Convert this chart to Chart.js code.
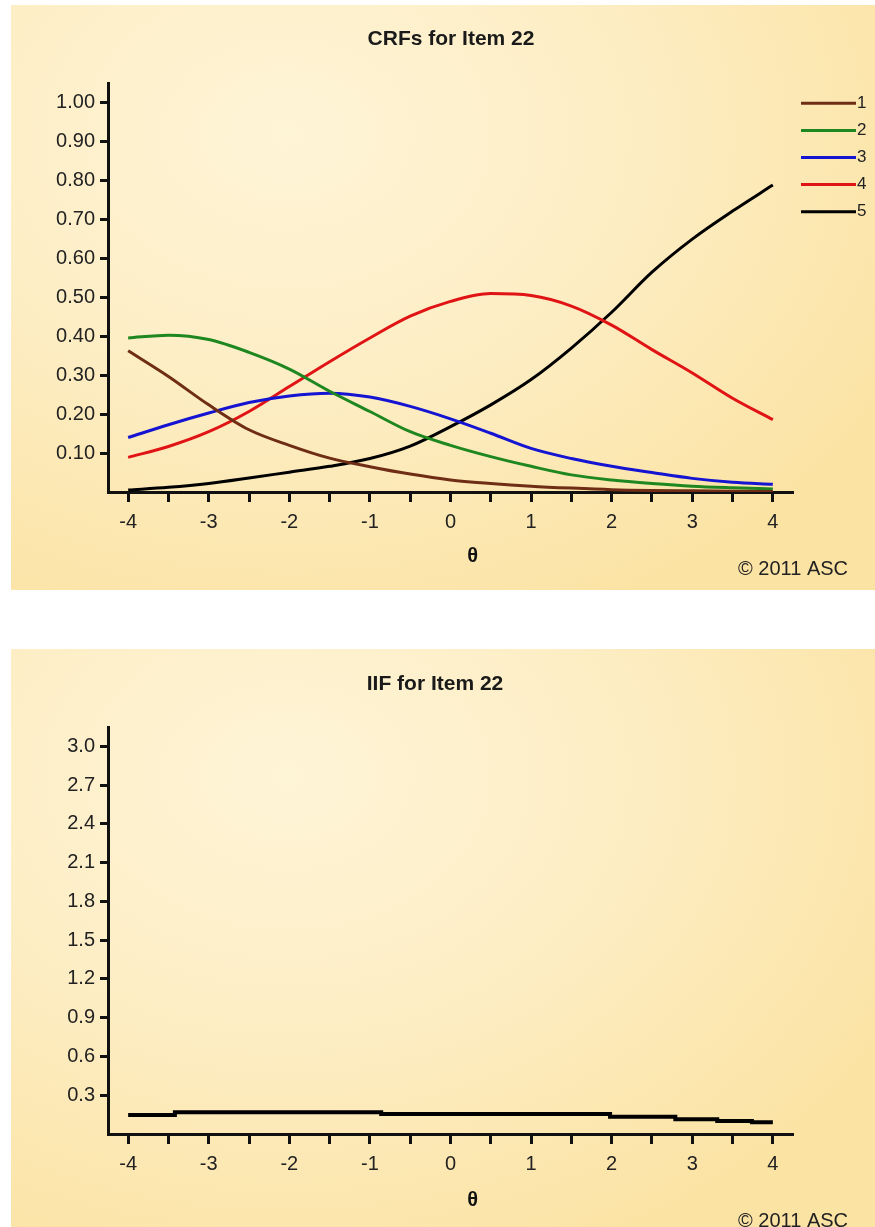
<!DOCTYPE html>
<html>
<head>
<meta charset="utf-8">
<script src="https://cdn.jsdelivr.net/npm/chart.js@4"></script>
<style>
  body { margin: 0; background: #fff; width: 875px; height: 1227px; position: relative; overflow: hidden; }
  .panel {
    position: absolute; left: 11px; width: 864px;
    background: radial-gradient(ellipse 80% 90% at 32% 22%, #fef4d6 0%, #fdeec6 45%, #fbe3a4 100%);
  }
  #panel-crf { top: 5px; height: 585px; }
  #panel-iif { top: 649px; height: 578px; }
  canvas { display: block; }
</style>
</head>
<body>
<div class="panel" id="panel-crf"><canvas id="grafico-crf" width="864" height="585"></canvas></div>
<div class="panel" id="panel-iif"><canvas id="grafico-iif" width="864" height="578"></canvas></div>
<script>
// Datos
const theta = [-4, -3.5, -3, -2.5, -2, -1.5, -1, -0.5, 0, 0.5, 1, 1.5, 2, 2.5, 3, 3.5, 4];
const cat1 = [0.363, 0.297, 0.224, 0.160, 0.120, 0.087, 0.065, 0.046, 0.031, 0.022, 0.015, 0.010, 0.006, 0.004, 0.003, 0.002, 0.001];
const cat2 = [0.396, 0.403, 0.392, 0.359, 0.316, 0.259, 0.207, 0.155, 0.120, 0.091, 0.066, 0.044, 0.031, 0.022, 0.015, 0.011, 0.008];
const cat3 = [0.140, 0.173, 0.203, 0.230, 0.247, 0.254, 0.244, 0.220, 0.188, 0.151, 0.112, 0.086, 0.066, 0.050, 0.035, 0.025, 0.020];
const cat4 = [0.089, 0.117, 0.155, 0.207, 0.271, 0.335, 0.396, 0.452, 0.490, 0.510, 0.505, 0.478, 0.429, 0.366, 0.306, 0.241, 0.186];
const cat5 = [0.005, 0.012, 0.022, 0.036, 0.051, 0.066, 0.086, 0.118, 0.168, 0.224, 0.289, 0.370, 0.462, 0.565, 0.650, 0.722, 0.789];
const categorias = ['1', '2', '3', '4', '5'];

// IIF (la curva aparece escalonada en la imagen)
const thetaIIF = [-4, -3.42, -0.86, 1.98, 2.79, 3.31, 3.74, 4];
const infoIIF = [0.148, 0.169, 0.154, 0.133, 0.115, 0.100, 0.090, 0.090];

// Etiquetas de los ejes
const ticksTheta = [-4, -3.5, -3, -2.5, -2, -1.5, -1, -0.5, 0, 0.5, 1, 1.5, 2, 2.5, 3, 3.5, 4];
const ticksCRF = [0.1, 0.2, 0.3, 0.4, 0.5, 0.6, 0.7, 0.8, 0.9, 1.0];
const ticksIIF = [0.3, 0.6, 0.9, 1.2, 1.5, 1.8, 2.1, 2.4, 2.7, 3.0];

const colores = ['#6e2d14', '#1f871f', '#1414d2', '#e01414', '#000000'];
const FUENTE = '"Liberation Sans", Arial, sans-serif';
Chart.defaults.font.family = FUENTE;
Chart.defaults.color = '#222';

function puntos(xs, ys) {
    return xs.map((x, i) => ({ x: x, y: ys[i] }));
}

// Leyenda de lineas a la derecha (como en el original)
const leyendaLineas = {
    id: 'leyendaLineas',
    afterDraw(chart, args, opts) {
        if (!opts.display) return;
        const ctx = chart.ctx;
        chart.data.datasets.forEach((ds, i) => {
            const y = opts.top + i * opts.step;
            ctx.save();
            ctx.strokeStyle = ds.borderColor;
            ctx.lineWidth = 3;
            ctx.beginPath();
            ctx.moveTo(opts.x, y);
            ctx.lineTo(opts.x + opts.width, y);
            ctx.stroke();
            ctx.fillStyle = '#222';
            ctx.font = '17px ' + FUENTE;
            ctx.textBaseline = 'middle';
            ctx.fillText(ds.label, opts.x + opts.width + 1, y);
            ctx.restore();
        });
    }
};

// Texto de copyright abajo a la derecha
const copyright = {
    id: 'copyright',
    afterDraw(chart, args, opts) {
        const ctx = chart.ctx;
        ctx.save();
        ctx.fillStyle = '#222';
        ctx.font = '20px ' + FUENTE;
        ctx.textAlign = 'right';
        ctx.textBaseline = 'middle';
        ctx.fillText(opts.text, opts.x, opts.y);
        ctx.restore();
    }
};

function ejeX(padTitulo) {
    return {
        type: 'linear',
        min: -4.25,
        max: 4.25,
        afterBuildTicks: s => { s.ticks = ticksTheta.map(v => ({ value: v })); },
        ticks: {
            callback: v => Number.isInteger(v) ? String(v) : '',
            font: { size: 20 },
            color: '#222',
            padding: 8,
            maxRotation: 0,
            autoSkip: false
        },
        grid: { drawOnChartArea: false, drawTicks: true, tickLength: 10, tickWidth: 3, tickColor: '#111' },
        border: { display: true, width: 3, color: '#111' },
        // el simbolo esta algo a la derecha del centro en el original
        title: { display: true, text: '        θ', font: { size: 20, weight: 'bold' }, color: '#111', padding: { top: padTitulo, bottom: 0 } }
    };
}

function ejeY(max, ticksY, decimales, ancho) {
    return {
        min: 0,
        max: max,
        afterBuildTicks: s => { s.ticks = ticksY.map(v => ({ value: v })); },
        afterFit: s => { s.width = ancho; },
        ticks: {
            callback: v => v.toFixed(decimales),
            font: { size: 20 },
            color: '#222',
            padding: 5,
            autoSkip: false
        },
        grid: { drawOnChartArea: false, drawTicks: true, tickLength: 8, tickWidth: 3, tickColor: '#111' },
        border: { display: true, width: 3, color: '#111' }
    };
}

// eje vacio a la derecha, solo reserva el espacio de la leyenda
function ejeDerecho(ancho) {
    return {
        position: 'right',
        display: true,
        afterFit: s => { s.width = ancho; },
        ticks: { display: false },
        grid: { display: false },
        border: { display: false }
    };
}

function tituloGrafico(texto, padTop, padBottom) {
    return {
        display: true,
        text: texto,
        font: { size: 21, weight: 'bold' },
        color: '#1a1a1a',
        padding: { top: padTop, bottom: padBottom }
    };
}

// Grafico CRF
const seriesCRF = [cat1, cat2, cat3, cat4, cat5];
new Chart(document.getElementById('grafico-crf'), {
    type: 'line',
    data: {
        datasets: seriesCRF.map((serie, i) => ({
            label: categorias[i],
            data: puntos(theta, serie),
            borderColor: colores[i],
            borderWidth: 3,
            pointRadius: 0,
            fill: false,
            cubicInterpolationMode: 'monotone'
        }))
    },
    options: {
        responsive: false,
        animation: false,
        layout: { padding: { left: 16, right: 0, top: 0, bottom: 22 } },
        plugins: {
            title: tituloGrafico('CRFs for Item 22', 22, 31.3),
            legend: { display: false },
            tooltip: { enabled: false },
            leyendaLineas: { display: true, x: 790, width: 55, top: 98.3, step: 27.1 },
            copyright: { text: '© 2011 ASC', x: 837, y: 564 }
        },
        scales: {
            x: ejeX(2),
            y: ejeY(1.05, ticksCRF, 2, 81),
            y2: ejeDerecho(82)
        }
    },
    plugins: [leyendaLineas, copyright]
});

// Grafico IIF
new Chart(document.getElementById('grafico-iif'), {
    type: 'line',
    data: {
        datasets: [{
            label: 'IIF',
            data: puntos(thetaIIF, infoIIF),
            borderColor: '#000',
            borderWidth: 4,
            pointRadius: 0,
            fill: false,
            stepped: 'before'
        }]
    },
    options: {
        responsive: false,
        animation: false,
        layout: { padding: { left: 0, right: 16, top: 0, bottom: 15 } },
        plugins: {
            title: tituloGrafico('IIF for Item 22', 23, 29.8),
            legend: { display: false },
            tooltip: { enabled: false },
            leyendaLineas: { display: false },
            copyright: { text: '© 2011 ASC', x: 837, y: 572 }
        },
        scales: {
            x: ejeX(4),
            y: ejeY(3.15, ticksIIF, 1, 97),
            y2: ejeDerecho(66)
        }
    },
    plugins: [leyendaLineas, copyright]
});
</script>
</body>
</html>
